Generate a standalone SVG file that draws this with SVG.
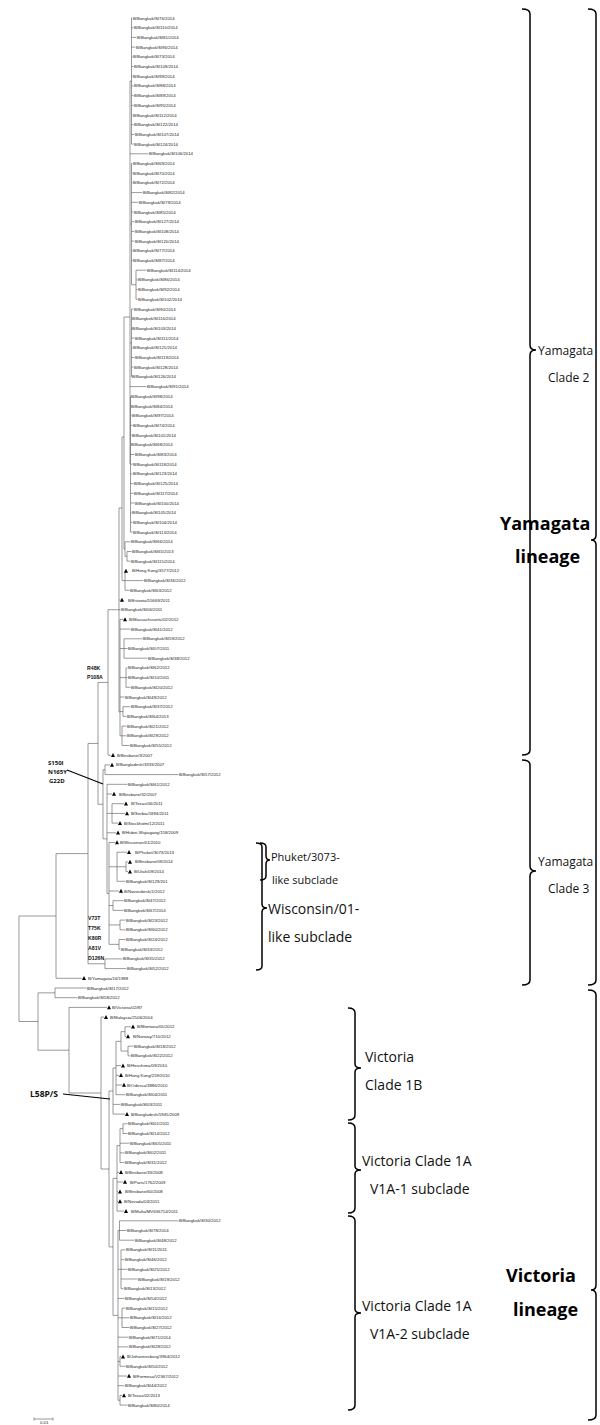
<svg xmlns="http://www.w3.org/2000/svg" xmlns:xlink="http://www.w3.org/1999/xlink" width="600" height="1425" viewBox="0 0 600 1425">
<style>
.lf{font-family:"Liberation Sans",Arial,sans-serif;font-size:4.3px;fill:#222}
.tr{stroke:#555;stroke-width:0.6;fill:none}
.mut{font-family:"Liberation Sans",Arial,sans-serif;font-weight:bold;font-size:5.2px;fill:#111}
.mut2{font-family:"Open Sans",sans-serif;font-weight:bold;font-size:6px;fill:#111}
.lab{font-family:"Open Sans",sans-serif;font-size:14px;fill:#111}
.lab2{font-family:"Open Sans",sans-serif;font-size:12px;fill:#111}
.sm{font-family:"Open Sans",sans-serif;font-size:11px;fill:#111}
.big{font-family:"Open Sans",sans-serif;font-weight:bold;font-size:18px;fill:#000}
.br{stroke:#000;stroke-width:1.5;fill:none}
.ml{stroke:#000;stroke-width:1.1;fill:none}
</style>
<defs><path id="tri" d="M-2,1.8 L2,1.8 L0,-2.2 Z" fill="#000"/></defs>
<rect width="600" height="1425" fill="#fff"/>
<g id="connectors">
<path class="tr" d="M131.5,18V144.1M130,81H131.5M131.5,18H132.5M131.5,27.7H133.5M131.5,37.4H136.5M131.5,47.1H135.5M131.5,56.8H132.5M131.5,66.5H133.5M131.5,76.2H132.5M131.5,85.9H133.5M131.5,95.6H133.5M131.5,105.3H133.5M131.5,115H132.5M131.5,124.7H133.5M131.5,134.4H134.5M131.5,144.1H133.5
M130,153.8H148.5
M131.5,163.5V284.75M130,224H131.5M131.5,163.5H132.5M131.5,173.2H132.5M131.5,182.9H132.5M131.5,192.6H142.5M131.5,202.3H138.5M131.5,212H133.5M131.5,221.7H134.5M131.5,231.4H134.5M131.5,241.1H134.5M131.5,250.8H132.5M131.5,260.5H132.5
M131.5,284.75H136M136,270.2V299.3M136,270.2H146.5M136,279.9H137.5M136,289.6H137.5M136,299.3H137.5
M131.5,309V376.9M130,343H131.5M131.5,309H133.5M131.5,318.7H131.8M131.5,328.4H131.8M131.5,338.1H134.5M131.5,347.8H132.5M131.5,357.5H134.5M131.5,367.2H133.5M131.5,376.9H131.8
M130,386.6H146.5
M130.5,396.3V532.1M130.5,415.7H131.5M130.5,425.4H132.5M130.5,435.1H131.5M130.5,454.5H134.5M130.5,464.2H132.5M130.5,473.9H132.5M130.5,483.6H133.5M130.5,493.3H133.5M130.5,503H134.5M130.5,512.7H131.5M130.5,522.4H132.5M130.5,532.1H132.5
M130,81V464.2
M124,317V549M124,317H130
M124,549H125M125,541.8V556.35M125,541.8H130.5M125,556.35H127M127,551.5V561.2M127,551.5H131.5M127,561.2H130.5
M122,437V580.6M122,437H124M122,580.6H125
M125,570.9V590.3M125,580.6H143.5M125,590.3H129.5
M119,508V712M119,508H122M119,600H120.5M119,609.7H120.5M119,712H120
M120,619.4V735.8M120,619.4H123M120,629.1H130.5
M120,648.5H124M124,638.8V658.2M124,638.8H142.5M124,648.5H127.5M124,658.2H147.5
M120,677.6H126M126,667.9V687.3M126,667.9H127.5M126,677.6H127.5M126,687.3H130.5
M120,697H124.5
M120,711.55H123M123,706.7V716.4M123,706.7H130.5M123,716.4H126.5
M120,735.8H122M122,726.1V745.5M122,726.1H126.5M122,735.8H126.5M122,745.5H129.5
M108,609.7V755.2M108,609.7H119M108,755.2H111
M98,682.45V804.3M98,682.45H108M98,804.3H103
M103,769.75V838.85M103,769.75H105M103,838.85H107
M105,764.9V774.6M105,764.9H110M105,774.6H178.5
M107,784.3V893.4M107,784.3H127.5M107,794H112M107,813.4H112M112,803.7V823.1M112,803.7H124M112,813.4H125M112,823.1H118M107,832.8H116M107,893.4H109
M109,842.5V944.35M109,842.5H115M109,866.75H117M117,852.2V881.3M117,852.2H127M117,866.75H126M126,861.9V871.6M126,861.9H128M126,871.6H128M117,881.3H125.5
M109,891H119M109,905.55H113M113,900.7V910.4M113,900.7H123.5M113,910.4H123.5
M109,924.95H120M120,920.1V929.8M120,920.1H125.5M120,929.8H125.5
M109,944.35H119M119,939.5V949.2M119,939.5H125.5M119,949.2H120.5
M88,743.45V963.75M88,743.45H98M88,963.75H105M105,958.9V968.6M105,958.9H122.5M105,968.6H126.5
M56,853.6V978.3M56,853.6H88M56,978.3H82
M19,916V1021.5M19,916H56M19,1021.5H38
M38,992.85V1050.2M38,992.85H55M38,1050.2H69M55,988V997.7M55,988H86.5M55,997.7H77.5
M69,1007.4V1093M69,1007.4H107M69,1093H101
M101,1017.1V1169M101,1017.1H104M101,1169H109
M109,1091V1246.9M109,1091H113M109,1246.9H113
M113,1068V1114.1M113,1068H116M113,1104.4H120.5M113,1114.1H125
M116,1041.35V1094.7M116,1041.35H121M116,1065.6H121M116,1075.3H119M116,1085H122M116,1094.7H125.5
M121,1031.65V1051.05M121,1031.65H125M121,1051.05H128M125,1026.8V1036.5M125,1026.8H131M125,1036.5H126M128,1046.2V1055.9M128,1046.2H133.5M128,1055.9H130.5
M113,1178.35V1315.4M113,1178.35H117M113,1315.4H118
M117,1145.6V1211.1M117,1145.6H120M117,1172.3H119M117,1182H123M117,1191.7H118M117,1201.4H118M117,1211.1H124
M120,1128.65V1162.6M120,1128.65H123M120,1143.2H129.5M120,1152.9H124.5M120,1162.6H124.5M123,1123.8V1133.5M123,1123.8H127.5M123,1133.5H127.5
M118,1230.5V1400.25M118,1230.5H119.5M119.5,1220.8V1240.2M119.5,1220.8H178.5M119.5,1230.5H126.5M119.5,1240.2H134.5
M118,1269.3H121M121,1249.9V1288.7M121,1249.9H125.5M121,1259.6H124.5M121,1269.3H127.5M121,1279H137.5M121,1288.7H123.5
M118,1298.4H124.5M118,1317.8H122M122,1308.1V1327.5M122,1308.1H125.5M122,1317.8H129.5M122,1327.5H129.5
M118,1337.2H128.5M118,1346.9H128.5M118,1361.45H120M120,1356.6V1366.3M120,1356.6H121M120,1366.3H125.5
M118,1376H127M118,1385.7H124.5M118,1400.25H120M120,1395.4V1405.1M120,1395.4H122M120,1405.1H127.5"/>
<path class="ml" d="M67,770L103,784M63,1094L110,1099"/>
<path class="tr" d="M34,1419H53M34,1417.5V1420.5M53,1417.5V1420.5" stroke="#000"/>
</g>
<g id="leaves">
<g id="L1"><text class="lf" x="133" y="19.5">B/Bangkok/SI76/2014</text></g>
<g id="L2"><text class="lf" x="134" y="29.2">B/Bangkok/SI110/2014</text></g>
<g id="L3"><text class="lf" x="137" y="38.9">B/Bangkok/SI81/2014</text></g>
<g id="L4"><text class="lf" x="136" y="48.6">B/Bangkok/SI96/2014</text></g>
<g id="L5"><text class="lf" x="133" y="58.3">B/Bangkok/SI73/2014</text></g>
<g id="L6"><text class="lf" x="134" y="68">B/Bangkok/SI109/2014</text></g>
<g id="L7"><text class="lf" x="133" y="77.7">B/Bangkok/SI99/2014</text></g>
<g id="L8"><text class="lf" x="134" y="87.4">B/Bangkok/SI88/2014</text></g>
<g id="L9"><text class="lf" x="134" y="97.1">B/Bangkok/SI89/2014</text></g>
<g id="L10"><text class="lf" x="134" y="106.8">B/Bangkok/SI95/2014</text></g>
<g id="L11"><text class="lf" x="133" y="116.5">B/Bangkok/SI112/2014</text></g>
<g id="L12"><text class="lf" x="134" y="126.2">B/Bangkok/SI122/2014</text></g>
<g id="L13"><text class="lf" x="135" y="135.9">B/Bangkok/SI107/2014</text></g>
<g id="L14"><text class="lf" x="134" y="145.6">B/Bangkok/SI124/2014</text></g>
<g id="L15"><text class="lf" x="149" y="155.3">B/Bangkok/SI106/2014</text></g>
<g id="L16"><text class="lf" x="133" y="165">B/Bangkok/SI69/2014</text></g>
<g id="L17"><text class="lf" x="133" y="174.7">B/Bangkok/SI70/2014</text></g>
<g id="L18"><text class="lf" x="133" y="184.4">B/Bangkok/SI72/2014</text></g>
<g id="L19"><text class="lf" x="143" y="194.1">B/Bangkok/SI82/2014</text></g>
<g id="L20"><text class="lf" x="139" y="203.8">B/Bangkok/SI79/2014</text></g>
<g id="L21"><text class="lf" x="134" y="213.5">B/Bangkok/SI85/2014</text></g>
<g id="L22"><text class="lf" x="135" y="223.2">B/Bangkok/SI127/2014</text></g>
<g id="L23"><text class="lf" x="135" y="232.9">B/Bangkok/SI108/2014</text></g>
<g id="L24"><text class="lf" x="135" y="242.6">B/Bangkok/SI120/2014</text></g>
<g id="L25"><text class="lf" x="133" y="252.3">B/Bangkok/SI77/2014</text></g>
<g id="L26"><text class="lf" x="133" y="262">B/Bangkok/SI87/2014</text></g>
<g id="L27"><text class="lf" x="147" y="271.7">B/Bangkok/SI114/2014</text></g>
<g id="L28"><text class="lf" x="138" y="281.4">B/Bangkok/SI86/2014</text></g>
<g id="L29"><text class="lf" x="138" y="291.1">B/Bangkok/SI92/2014</text></g>
<g id="L30"><text class="lf" x="138" y="300.8">B/Bangkok/SI102/2014</text></g>
<g id="L31"><text class="lf" x="134" y="310.5">B/Bangkok/SI90/2014</text></g>
<g id="L32"><text class="lf" x="132" y="320.2">B/Bangkok/SI116/2014</text></g>
<g id="L33"><text class="lf" x="132" y="329.9">B/Bangkok/SI103/2014</text></g>
<g id="L34"><text class="lf" x="135" y="339.6">B/Bangkok/SI111/2014</text></g>
<g id="L35"><text class="lf" x="133" y="349.3">B/Bangkok/SI121/2014</text></g>
<g id="L36"><text class="lf" x="135" y="359">B/Bangkok/SI119/2014</text></g>
<g id="L37"><text class="lf" x="134" y="368.7">B/Bangkok/SI128/2014</text></g>
<g id="L38"><text class="lf" x="132" y="378.4">B/Bangkok/SI126/2014</text></g>
<g id="L39"><text class="lf" x="147" y="388.1">B/Bangkok/SI91/2014</text></g>
<g id="L40"><text class="lf" x="131" y="397.8">B/Bangkok/SI98/2014</text></g>
<g id="L41"><text class="lf" x="131" y="407.5">B/Bangkok/SI84/2014</text></g>
<g id="L42"><text class="lf" x="132" y="417.2">B/Bangkok/SI97/2014</text></g>
<g id="L43"><text class="lf" x="133" y="426.9">B/Bangkok/SI74/2014</text></g>
<g id="L44"><text class="lf" x="132" y="436.6">B/Bangkok/SI101/2014</text></g>
<g id="L45"><text class="lf" x="131" y="446.3">B/Bangkok/SI68/2014</text></g>
<g id="L46"><text class="lf" x="135" y="456">B/Bangkok/SI83/2014</text></g>
<g id="L47"><text class="lf" x="133" y="465.7">B/Bangkok/SI118/2014</text></g>
<g id="L48"><text class="lf" x="133" y="475.4">B/Bangkok/SI123/2014</text></g>
<g id="L49"><text class="lf" x="134" y="485.1">B/Bangkok/SI125/2014</text></g>
<g id="L50"><text class="lf" x="134" y="494.8">B/Bangkok/SI117/2014</text></g>
<g id="L51"><text class="lf" x="135" y="504.5">B/Bangkok/SI100/2014</text></g>
<g id="L52"><text class="lf" x="132" y="514.2">B/Bangkok/SI105/2014</text></g>
<g id="L53"><text class="lf" x="133" y="523.9">B/Bangkok/SI104/2014</text></g>
<g id="L54"><text class="lf" x="133" y="533.6">B/Bangkok/SI113/2014</text></g>
<g id="L55"><text class="lf" x="131" y="543.3">B/Bangkok/SI66/2014</text></g>
<g id="L56"><text class="lf" x="132" y="553">B/Bangkok/SI65/2013</text></g>
<g id="L57"><text class="lf" x="131" y="562.7">B/Bangkok/SI115/2014</text></g>
<g id="L58"><use href="#tri" x="126" y="570.9"/><text class="lf" x="132" y="572.4">B/Hong Kong/3577/2012</text></g>
<g id="L59"><text class="lf" x="144" y="582.1">B/Bangkok/SI36/2012</text></g>
<g id="L60"><text class="lf" x="130" y="591.8">B/Bangkok/SI63/2012</text></g>
<g id="L61"><use href="#tri" x="122" y="600"/><text class="lf" x="128" y="601.5">B/Estonia/55669/2011</text></g>
<g id="L62"><text class="lf" x="121" y="611.2">B/Bangkok/SI06/2011</text></g>
<g id="L63"><use href="#tri" x="125" y="619.4"/><text class="lf" x="129" y="620.9">B/Massachusetts/02/2012</text></g>
<g id="L64"><text class="lf" x="131" y="630.6">B/Bangkok/SI41/2012</text></g>
<g id="L65"><text class="lf" x="143" y="640.3">B/Bangkok/SI59/2012</text></g>
<g id="L66"><text class="lf" x="128" y="650">B/Bangkok/SI07/2011</text></g>
<g id="L67"><text class="lf" x="148" y="659.7">B/Bangkok/SI38/2012</text></g>
<g id="L68"><text class="lf" x="128" y="669.4">B/Bangkok/SI62/2012</text></g>
<g id="L69"><text class="lf" x="128" y="679.1">B/Bangkok/SI10/2011</text></g>
<g id="L70"><text class="lf" x="131" y="688.8">B/Bangkok/SI20/2012</text></g>
<g id="L71"><text class="lf" x="125" y="698.5">B/Bangkok/SI49/2012</text></g>
<g id="L72"><text class="lf" x="131" y="708.2">B/Bangkok/SI37/2012</text></g>
<g id="L73"><text class="lf" x="127" y="717.9">B/Bangkok/SI64/2013</text></g>
<g id="L74"><text class="lf" x="127" y="727.6">B/Bangkok/SI21/2012</text></g>
<g id="L75"><text class="lf" x="127" y="737.3">B/Bangkok/SI29/2012</text></g>
<g id="L76"><text class="lf" x="130" y="747">B/Bangkok/SI55/2012</text></g>
<g id="L77"><use href="#tri" x="113" y="755.2"/><text class="lf" x="117" y="756.7">B/Brisbane/3/2007</text></g>
<g id="L78"><use href="#tri" x="112" y="764.9"/><text class="lf" x="116" y="766.4">B/Bangladesh/3333/2007</text></g>
<g id="L79"><text class="lf" x="179" y="776.1">B/Bangkok/SI57/2012</text></g>
<g id="L80"><text class="lf" x="128" y="785.8">B/Bangkok/SI61/2012</text></g>
<g id="L81"><use href="#tri" x="114" y="794"/><text class="lf" x="119" y="795.5">B/Brisbane/32/2007</text></g>
<g id="L82"><use href="#tri" x="126" y="803.7"/><text class="lf" x="131" y="805.2">B/Texas/06/2011</text></g>
<g id="L83"><use href="#tri" x="127" y="813.4"/><text class="lf" x="131" y="814.9">B/Serbia/1894/2011</text></g>
<g id="L84"><use href="#tri" x="120" y="823.1"/><text class="lf" x="124" y="824.6">B/Stockholm/12/2011</text></g>
<g id="L85"><use href="#tri" x="118" y="832.8"/><text class="lf" x="122" y="834.3">B/Hubei-Wujiagang/158/2009</text></g>
<g id="L86"><use href="#tri" x="117" y="842.5"/><text class="lf" x="120" y="844">B/Wisconsin/01/2010</text></g>
<g id="L87"><use href="#tri" x="129" y="852.2"/><text class="lf" x="135" y="853.7">B/Phuket/3073/2013</text></g>
<g id="L88"><use href="#tri" x="130" y="861.9"/><text class="lf" x="135" y="863.4">B/Brisbane/09/2014</text></g>
<g id="L89"><use href="#tri" x="130" y="871.6"/><text class="lf" x="134" y="873.1">B/Utah/09/2014</text></g>
<g id="L90"><text class="lf" x="126" y="882.8">B/Bangkok/SI129/201</text></g>
<g id="L91"><use href="#tri" x="121" y="891"/><text class="lf" x="124" y="892.5">B/Novosibirsk/1/2012</text></g>
<g id="L92"><text class="lf" x="124" y="902.2">B/Bangkok/SI47/2012</text></g>
<g id="L93"><text class="lf" x="124" y="911.9">B/Bangkok/SI67/2014</text></g>
<g id="L94"><text class="lf" x="126" y="921.6">B/Bangkok/SI23/2012</text></g>
<g id="L95"><text class="lf" x="126" y="931.3">B/Bangkok/SI60/2012</text></g>
<g id="L96"><text class="lf" x="126" y="941">B/Bangkok/SI24/2012</text></g>
<g id="L97"><text class="lf" x="121" y="950.7">B/Bangkok/SI33/2012</text></g>
<g id="L98"><text class="lf" x="123" y="960.4">B/Bangkok/SI35/2012</text></g>
<g id="L99"><text class="lf" x="127" y="970.1">B/Bangkok/SI52/2012</text></g>
<g id="L100"><use href="#tri" x="84" y="978.3"/><text class="lf" x="88" y="979.8">B/Yamagata/16/1988</text></g>
<g id="L101"><text class="lf" x="87" y="989.5">B/Bangkok/SI17/2012</text></g>
<g id="L102"><text class="lf" x="78" y="999.2">B/Bangkok/SI58/2012</text></g>
<g id="L103"><use href="#tri" x="109" y="1007.4"/><text class="lf" x="112" y="1008.9">B/Victoria/02/87</text></g>
<g id="L104"><use href="#tri" x="106" y="1017.1"/><text class="lf" x="110" y="1018.6">B/Malaysia/2506/2004</text></g>
<g id="L105"><use href="#tri" x="133" y="1026.8"/><text class="lf" x="137" y="1028.3">B/Montana/05/2012</text></g>
<g id="L106"><use href="#tri" x="128" y="1036.5"/><text class="lf" x="133" y="1038">B/Norway/710/2012</text></g>
<g id="L107"><text class="lf" x="134" y="1047.7">B/Bangkok/SI18/2012</text></g>
<g id="L108"><text class="lf" x="131" y="1057.4">B/Bangkok/SI22/2012</text></g>
<g id="L109"><use href="#tri" x="123" y="1065.6"/><text class="lf" x="127" y="1067.1">B/Hiroshima/09/2010</text></g>
<g id="L110"><use href="#tri" x="121" y="1075.3"/><text class="lf" x="125" y="1076.8">B/Hong Kong/259/2010</text></g>
<g id="L111"><use href="#tri" x="124" y="1085"/><text class="lf" x="127" y="1086.5">B/Odessa/3886/2010</text></g>
<g id="L112"><text class="lf" x="126" y="1096.2">B/Bangkok/SI04/2011</text></g>
<g id="L113"><text class="lf" x="121" y="1105.9">B/Bangkok/SI03/2011</text></g>
<g id="L114"><use href="#tri" x="127" y="1114.1"/><text class="lf" x="131" y="1115.6">B/Bangladesh/5945/2009</text></g>
<g id="L115"><text class="lf" x="128" y="1125.3">B/Bangkok/SI01/2011</text></g>
<g id="L116"><text class="lf" x="128" y="1135">B/Bangkok/SI14/2012</text></g>
<g id="L117"><text class="lf" x="130" y="1144.7">B/Bangkok/SI05/2011</text></g>
<g id="L118"><text class="lf" x="125" y="1154.4">B/Bangkok/SI02/2011</text></g>
<g id="L119"><text class="lf" x="125" y="1164.1">B/Bangkok/SI31/2012</text></g>
<g id="L120"><use href="#tri" x="121" y="1172.3"/><text class="lf" x="125" y="1173.8">B/Brisbane/33/2008</text></g>
<g id="L121"><use href="#tri" x="125" y="1182"/><text class="lf" x="130" y="1183.5">B/Paris/1762/2009</text></g>
<g id="L122"><use href="#tri" x="120" y="1191.7"/><text class="lf" x="125" y="1193.2">B/Brisbane/60/2008</text></g>
<g id="L123"><use href="#tri" x="120" y="1201.4"/><text class="lf" x="124" y="1202.9">B/Nevada/03/2011</text></g>
<g id="L124"><use href="#tri" x="126" y="1211.1"/><text class="lf" x="131" y="1212.6">B/Malta/MV636714/2011</text></g>
<g id="L125"><text class="lf" x="179" y="1222.3">B/Bangkok/SI30/2012</text></g>
<g id="L126"><text class="lf" x="127" y="1232">B/Bangkok/SI78/2014</text></g>
<g id="L127"><text class="lf" x="135" y="1241.7">B/Bangkok/SI48/2012</text></g>
<g id="L128"><text class="lf" x="126" y="1251.4">B/Bangkok/SI11/2011</text></g>
<g id="L129"><text class="lf" x="125" y="1261.1">B/Bangkok/SI46/2012</text></g>
<g id="L130"><text class="lf" x="128" y="1270.8">B/Bangkok/SI25/2012</text></g>
<g id="L131"><text class="lf" x="138" y="1280.5">B/Bangkok/SI19/2012</text></g>
<g id="L132"><text class="lf" x="124" y="1290.2">B/Bangkok/SI13/2012</text></g>
<g id="L133"><text class="lf" x="125" y="1299.9">B/Bangkok/SI54/2012</text></g>
<g id="L134"><text class="lf" x="126" y="1309.6">B/Bangkok/SI15/2012</text></g>
<g id="L135"><text class="lf" x="130" y="1319.3">B/Bangkok/SI16/2012</text></g>
<g id="L136"><text class="lf" x="130" y="1329">B/Bangkok/SI27/2012</text></g>
<g id="L137"><text class="lf" x="129" y="1338.7">B/Bangkok/SI71/2014</text></g>
<g id="L138"><text class="lf" x="129" y="1348.4">B/Bangkok/SI28/2012</text></g>
<g id="L139"><use href="#tri" x="123" y="1356.6"/><text class="lf" x="127" y="1358.1">B/Johannesburg/3964/2012</text></g>
<g id="L140"><text class="lf" x="126" y="1367.8">B/Bangkok/SI50/2012</text></g>
<g id="L141"><use href="#tri" x="129" y="1376"/><text class="lf" x="133" y="1377.5">B/Formosa/V2367/2012</text></g>
<g id="L142"><text class="lf" x="125" y="1387.2">B/Bangkok/SI44/2012</text></g>
<g id="L143"><use href="#tri" x="124" y="1395.4"/><text class="lf" x="128" y="1396.9">B/Texas/02/2013</text></g>
<g id="L144"><text class="lf" x="128" y="1406.6">B/Bangkok/SI80/2014</text></g>
</g>
<g id="mutations">
<text class="mut" x="87" y="670">R48K</text>
<text class="mut" x="87" y="679">P108A</text>
<text class="mut2" x="48" y="765">S150I</text>
<text class="mut2" x="48" y="774">N165Y</text>
<text class="mut2" x="49" y="783">G22D</text>
<text class="mut" x="88" y="920">V73T</text>
<text class="mut" x="88" y="930">T75K</text>
<text class="mut" x="88" y="940">K80R</text>
<text class="mut" x="88" y="950">A81V</text>
<text class="mut" x="88" y="960">D126N</text>
<text class="mut2" x="30" y="1097" style="font-size:8.5px">L58P/S</text>
</g>
<g id="scale"><text class="lf" x="40" y="1423.5">0.01</text></g>
<g id="brackets">
<path class="br" d="M522,9Q530,9 530,14V345Q530,350 536,350Q530,350 530,355V750Q530,755 522,755"/>
<path class="br" d="M522,760Q530,760 530,765V866Q530,871 536,871Q530,871 530,876V980Q530,985 522,985"/>
<path class="br" d="M588,9Q596,9 596,14V535Q596,540 591,540Q596,540 596,545V980Q596,985 588,985"/>
<path class="br" d="M588,990Q596,990 596,995V1285Q596,1290 591,1290Q596,1290 596,1295V1415Q596,1420 588,1420"/>
<path class="br" d="M256,843Q262,843 262,847V904Q262,908 267,908Q262,908 262,912V966Q262,970 256,970"/>
<path class="br" d="M260,843Q266,843 266,847V856Q266,860 270,860Q266,860 266,864V876Q266,880 260,880"/>
<path class="br" d="M348,1008Q355,1008 355,1013V1064Q355,1068 361,1068Q355,1068 355,1072V1115Q355,1120 348,1120"/>
<path class="br" d="M348,1123Q355,1123 355,1128V1166Q355,1170 361,1170Q355,1170 355,1174V1208Q355,1213 348,1213"/>
<path class="br" d="M348,1216Q355,1216 355,1221V1309Q355,1313 361,1313Q355,1313 355,1317V1405Q355,1410 348,1410"/>
</g>
<g id="labels">
<text class="lab2" x="538" y="355">Yamagata</text>
<text class="lab2" x="548" y="382">Clade 2</text>
<text class="lab2" x="538" y="866">Yamagata</text>
<text class="lab2" x="548" y="893">Clade 3</text>
<text class="sm" x="271" y="861">Phuket/3073-</text>
<text class="sm" x="272" y="884">like subclade</text>
<text class="lab" x="268" y="914">Wisconsin/01-</text>
<text class="lab" x="268" y="942">like subclade</text>
<text class="lab" x="365" y="1062">Victoria</text>
<text class="lab" x="365" y="1090">Clade 1B</text>
<text class="lab" x="362" y="1166">Victoria Clade 1A</text>
<text class="lab" x="370" y="1194">V1A-1 subclade</text>
<text class="lab" x="362" y="1311">Victoria Clade 1A</text>
<text class="lab" x="370" y="1339">V1A-2 subclade</text>
<text class="big" x="500" y="530">Yamagata</text>
<text class="big" x="515" y="563">lineage</text>
<text class="big" x="506" y="1282">Victoria</text>
<text class="big" x="513" y="1316">lineage</text>
</g>
</svg>
